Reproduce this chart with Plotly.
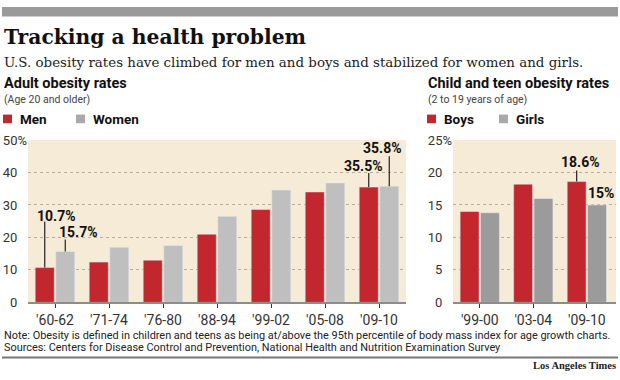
import plotly.graph_objects as go

W, H = 620, 380

# ---------------- data ----------------
adult_periods = ["'60-62", "'71-74", "'76-80", "'88-94", "'99-02", "'05-08", "'09-10"]
men = [10.7, 12.4, 13.0, 21.0, 28.6, 34.0, 35.5]
women = [15.7, 17.0, 17.5, 26.5, 34.6, 36.8, 35.8]

child_periods = ["'99-00", "'03-04", "'09-10"]
boys = [14.0, 18.2, 18.6]
girls = [13.8, 16.0, 15.0]

adult_ticks = [0, 10, 20, 30, 40, 50]
child_ticks = [0, 5, 10, 15, 20, 25]

RED = "#c1272d"
GREY_W = "#bfbfbf"
GREY_G = "#9b9b9b"
BEIGE = "#f6ebd7"
GRID = "#b8ad9b"


def px(x):
    return x / W


def py(y):
    return 1 - y / H


NB = "\u00a0"


def ticktext(vals):
    out = []
    for i, v in enumerate(vals):
        if i == len(vals) - 1:
            out.append(f"{v}%")
        else:
            out.append(f"{v}" + NB * 3)
    return out


fig = go.Figure()
fig.add_trace(go.Bar(x=adult_periods, y=men, marker_color=RED, xaxis="x", yaxis="y", name="Men"))
fig.add_trace(go.Bar(x=adult_periods, y=women, marker_color=GREY_W, xaxis="x", yaxis="y", name="Women"))
fig.add_trace(go.Bar(x=child_periods, y=boys, marker_color=RED, xaxis="x2", yaxis="y2", name="Boys"))
fig.add_trace(go.Bar(x=child_periods, y=girls, marker_color=GREY_G, xaxis="x2", yaxis="y2", name="Girls"))

tickfont = dict(family="Roboto", size=13, color="#333")
xtickfont = dict(family="Roboto", size=14, color="#333")
ydom = [py(307.5), py(138.5)]

fig.update_layout(
    width=W, height=H,
    margin=dict(l=0, r=0, t=0, b=0),
    paper_bgcolor="white",
    plot_bgcolor=BEIGE,
    showlegend=False,
    barmode="group",
    bargap=0.24,
    bargroupgap=0.07,
    xaxis=dict(domain=[px(28), px(406)], anchor="y", showline=True, linecolor="#8c8c8c", linewidth=1.5,
               ticks="outside", ticklen=4, tickcolor="#333", tickwidth=1, tickfont=xtickfont,
               showgrid=False),
    yaxis=dict(domain=ydom, anchor="x", range=[0, 50], tickvals=adult_ticks, ticktext=ticktext(adult_ticks),
               showgrid=True, gridcolor=GRID, griddash="dot", gridwidth=1, zeroline=False,
               tickfont=tickfont, ticks="", showline=False),
    xaxis2=dict(domain=[px(453), px(616)], anchor="y2", showline=True, linecolor="#8c8c8c", linewidth=1.5,
                ticks="outside", ticklen=4, tickcolor="#333", tickwidth=1, tickfont=xtickfont,
                showgrid=False),
    yaxis2=dict(domain=ydom, anchor="x2", range=[0, 25], tickvals=child_ticks, ticktext=ticktext(child_ticks),
                showgrid=True, gridcolor=GRID, griddash="dot", gridwidth=1, zeroline=False,
                tickfont=tickfont, ticks="", showline=False),
)

shapes = []
ann = []

# top grey band
shapes.append(dict(type="rect", xref="paper", yref="paper", x0=px(2), x1=px(618), y0=py(10), y1=py(0),
                   fillcolor="#9a9a9a", line=dict(width=0)))
# bottom rule
shapes.append(dict(type="line", xref="paper", yref="paper", x0=px(2), x1=px(618), y0=py(365), y1=py(365),
                   line=dict(color="#777", width=2)))


def text(x, y, s, size, family="Roboto", color="#111", bold=False, xanchor="left"):
    ann.append(dict(xref="paper", yref="paper", x=px(x), y=py(y), text=s, showarrow=False,
                    xanchor=xanchor, yanchor="middle",
                    font=dict(family=family, size=size, color=color, weight="bold" if bold else "normal")))


text(2, 31, "Tracking a health problem", 20.3, family="DejaVu Serif", bold=True)
text(2, 58, "U.S. obesity rates have climbed for men and boys and stabilized for women and girls.", 13.4,
     family="DejaVu Serif", color="#222")
text(2, 80, "Adult obesity rates", 14.5, bold=True)
text(2, 96, "(Age 20 and older)", 10.5, color="#444")
text(426, 80, "Child and teen obesity rates", 14.5, bold=True)
text(426, 96, "(2 to 19 years of age)", 10.5, color="#444")

# legends
legend_items = [(3, RED, "Men"), (76, "#a9a9a9", "Women"), (427, RED, "Boys"), (499, "#a9a9a9", "Girls")]
for x, c, s in legend_items:
    shapes.append(dict(type="rect", xref="paper", yref="paper", x0=px(x), x1=px(x + 9), y0=py(121), y1=py(112),
                       fillcolor=c, line=dict(width=0)))
    text(x + 15, 116.5, s, 13.5, bold=True, color="#111")

# notes
text(2, 342, "Note: Obesity is defined in children and teens as being at/above the 95th percentile of body mass index for age growth charts.",
     10.9, color="#222")
text(2, 354, "Sources: Centers for Disease Control and Prevention, National Health and Nutrition Examination Survey",
     10.9, color="#222")
text(618, 373, "Los Angeles Times", 10.5, family="Liberation Serif", bold=True, color="#222", xanchor="right")

# value callouts: (axis, series, index, offset, label, dx, dy, leader length)
OFF = 0.19
callouts = [
    ("", men, 0, -OFF, "10.7%", 12, 52, 46),
    ("", women, 0, OFF, "15.7%", 13.5, 19, 12),
    ("", men, 6, -OFF, "35.5%", -5, 21.5, 14),
    ("", women, 6, OFF, "35.8%", -6.5, 38, 30),
    ("2", boys, 2, -OFF, "18.6%", 4, 20, 11),
    ("2", girls, 2, OFF, "15%", 4, 11.5, 0),
]
for ax, series, i, off, lab, dx, dy, L in callouts:
    xv = i + off
    yv = series[i]
    if L > 0:
        shapes.append(dict(type="line", xref="x" + ax, yref="y" + ax, ysizemode="pixel", yanchor=yv,
                           x0=xv, x1=xv, y0=0, y1=L, line=dict(color="#222", width=1.2)))
    ann.append(dict(xref="x" + ax, yref="y" + ax, x=xv, y=yv, text=lab, showarrow=False,
                    xshift=dx, yshift=dy, xanchor="center", yanchor="middle",
                    font=dict(family="Roboto", size=14, color="#111", weight="bold")))

fig.update_layout(shapes=shapes, annotations=ann)
fig.write_html("out.html", config={"displayModeBar": False},
               post_script="document.body.style.margin='0';document.body.style.overflow='hidden';")
